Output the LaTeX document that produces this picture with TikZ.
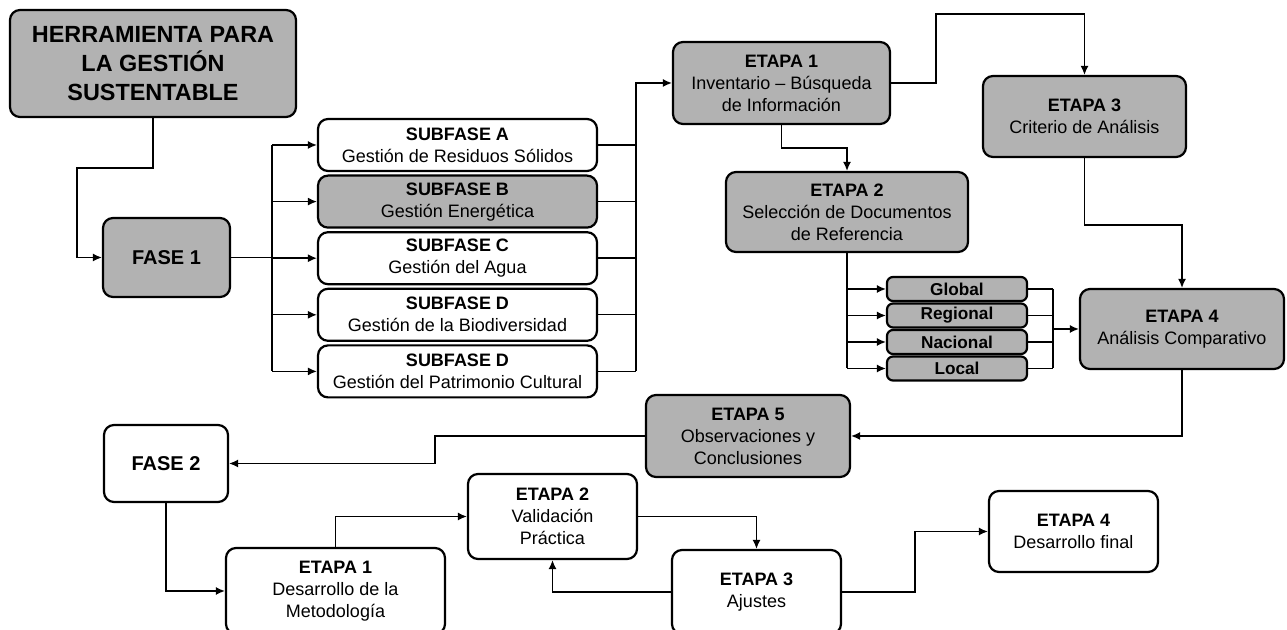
\documentclass[tikz,border=0pt]{standalone}
\usepackage{fontspec}
\setmainfont{Liberation Sans}
\usepackage{tikz}
\usetikzlibrary{arrows.meta,positioning}
\definecolor{BoxGray}{RGB}{178,178,178}

\tikzset{
    stagebox/.style={draw, line width=1.1pt, rounded corners=5pt, align=center,
        inner sep=1pt, font=\fontsize{9}{11}\selectfont},
    boxsize/.style 2 args={minimum width=#1*0.5pt, minimum height=#2*0.5pt},
    shaded/.style={fill=BoxGray},
    refbox/.style={stagebox, shaded, rounded corners=3pt, font=\fontsize{8.6}{10}\selectfont\bfseries},
    wire/.style={line width=0.7pt},
    link/.style={wire, -{Latex[length=4.5pt,width=4pt]}},
}

\begin{document}
\begin{tikzpicture}[x=0.5pt, y=-0.5pt]
    \useasboundingbox (0,0) rectangle (1287,630);

    % Fase 1
    \node [stagebox, shaded, boxsize={286}{107}, font=\fontsize{11.7}{14.5}\selectfont\bfseries]
        (tool) at (153,63.5) {HERRAMIENTA PARA\\LA GESTIÓN\\SUSTENTABLE};
    \node [stagebox, shaded, boxsize={127}{79}, font=\fontsize{10}{12}\selectfont\bfseries]
        (fase1) at (166.5,257.5) {FASE 1};

    % Subfases
    \node [stagebox, boxsize={279}{52}] (subA) at (457.5,145) {\textbf{SUBFASE A}\\Gestión de Residuos Sólidos};
    \node [stagebox, shaded, boxsize={279}{52}] (subB) at (457.5,201.6) {\textbf{SUBFASE B}\\Gestión Energética};
    \node [stagebox, boxsize={279}{52}] (subC) at (457.5,258.2) {\textbf{SUBFASE C}\\Gestión del Agua};
    \node [stagebox, boxsize={279}{52}] (subD) at (457.5,314.8) {\textbf{SUBFASE D}\\Gestión de la Biodiversidad};
    \node [stagebox, boxsize={279}{52}] (subE) at (457.5,371.4) {\textbf{SUBFASE D}\\Gestión del Patrimonio Cultural};

    % Etapas de la fase 1
    \node [stagebox, shaded, boxsize={217}{82}] (et1) at (781.5,83) {\textbf{ETAPA 1}\\Inventario – Búsqueda\\de Información};
    \node [stagebox, shaded, boxsize={242}{80}] (et2) at (847,212) {\textbf{ETAPA 2}\\Selección de Documentos\\de Referencia};
    \node [stagebox, shaded, boxsize={203}{81}] (et3) at (1084.5,116.5) {\textbf{ETAPA 3}\\Criterio de Análisis};
    \node [stagebox, shaded, boxsize={204}{80}] (et4) at (1182,329) {\textbf{ETAPA 4}\\Análisis Comparativo};
    \node [stagebox, shaded, boxsize={204}{82}] (et5) at (748,436) {\textbf{ETAPA 5}\\Observaciones y\\Conclusiones};

    % Documentos de referencia
    \node [refbox, boxsize={140}{24}] (glo) at (957,289) {Global};
    \node [refbox, boxsize={140}{24}] (reg) at (957,315.5) {Regional};
    \node [refbox, boxsize={140}{24}] (nac) at (957,342) {Nacional};
    \node [refbox, boxsize={140}{24}] (loc) at (957,368.5) {Local};

    % Fase 2
    \node [stagebox, boxsize={124}{77}, font=\fontsize{10}{12}\selectfont\bfseries]
        (fase2) at (166,463.5) {FASE 2};
    \node [stagebox, boxsize={219}{86}] (p1) at (335.5,591) {\textbf{ETAPA 1}\\Desarrollo de la\\Metodología};
    \node [stagebox, boxsize={169}{85}] (p2) at (552.5,516.5) {\textbf{ETAPA 2}\\Validación\\Práctica};
    \node [stagebox, boxsize={169}{84}] (p3) at (756.5,592) {\textbf{ETAPA 3}\\Ajustes};
    \node [stagebox, boxsize={169}{81}] (p4) at (1073.5,531.5) {\textbf{ETAPA 4}\\Desarrollo final};

    \coordinate (busL) at (272,0);
    \coordinate (busR) at (636,0);
    \coordinate (busT) at (1053,0);

    % Conectores fase 1
    \draw [link] (tool.south) |- (77,168) |- (fase1.west);
    \draw [wire] (fase1.east) -- (fase1.east -| busL);
    \draw [wire] (busL |- subA.west) -- (busL |- subE.west);
    \foreach \s in {subA,subB,subC,subD,subE} {
        \draw [link] (busL |- \s.west) -- (\s.west);
        \draw [wire] (\s.east) -- (\s.east -| busR);
    }
    \draw [link] (busR |- subE.east) |- (et1.west);
    \draw [link] (et1.east) -| (936,14) -| (et3.north);
    \draw [link] (et1.south) -- ++(0,23) -| (et2.north);
    \draw [link] (et3.south) -- ++(0,67) -| (et4.north);
    \draw [wire] (et2.south) -- (et2.south |- loc.west);
    \draw [wire] (busT |- glo.east) -- (busT |- loc.east);
    \foreach \r in {glo,reg,nac,loc} {
        \draw [link] (et2.south |- \r.west) -- (\r.west);
        \draw [wire] (\r.east) -- (\r.east -| busT);
    }
    \draw [link] (busT |- et4.west) -- (et4.west);
    \draw [link] (et4.south) |- (et5.east);

    % Conectores fase 2
    \draw [link] (et5.west) -- ++(-210,0) |- (fase2.east);
    \draw [link] (fase2.south) |- (p1.west);
    \draw [link] (p1.north) |- (p2.west);
    \draw [link] (p2.east) -| (p3.north);
    \draw [link] (p3.west) -| (p2.south);
    \draw [link] (p3.east) -- ++(73,0) |- (p4.west);
\end{tikzpicture}
\end{document}
